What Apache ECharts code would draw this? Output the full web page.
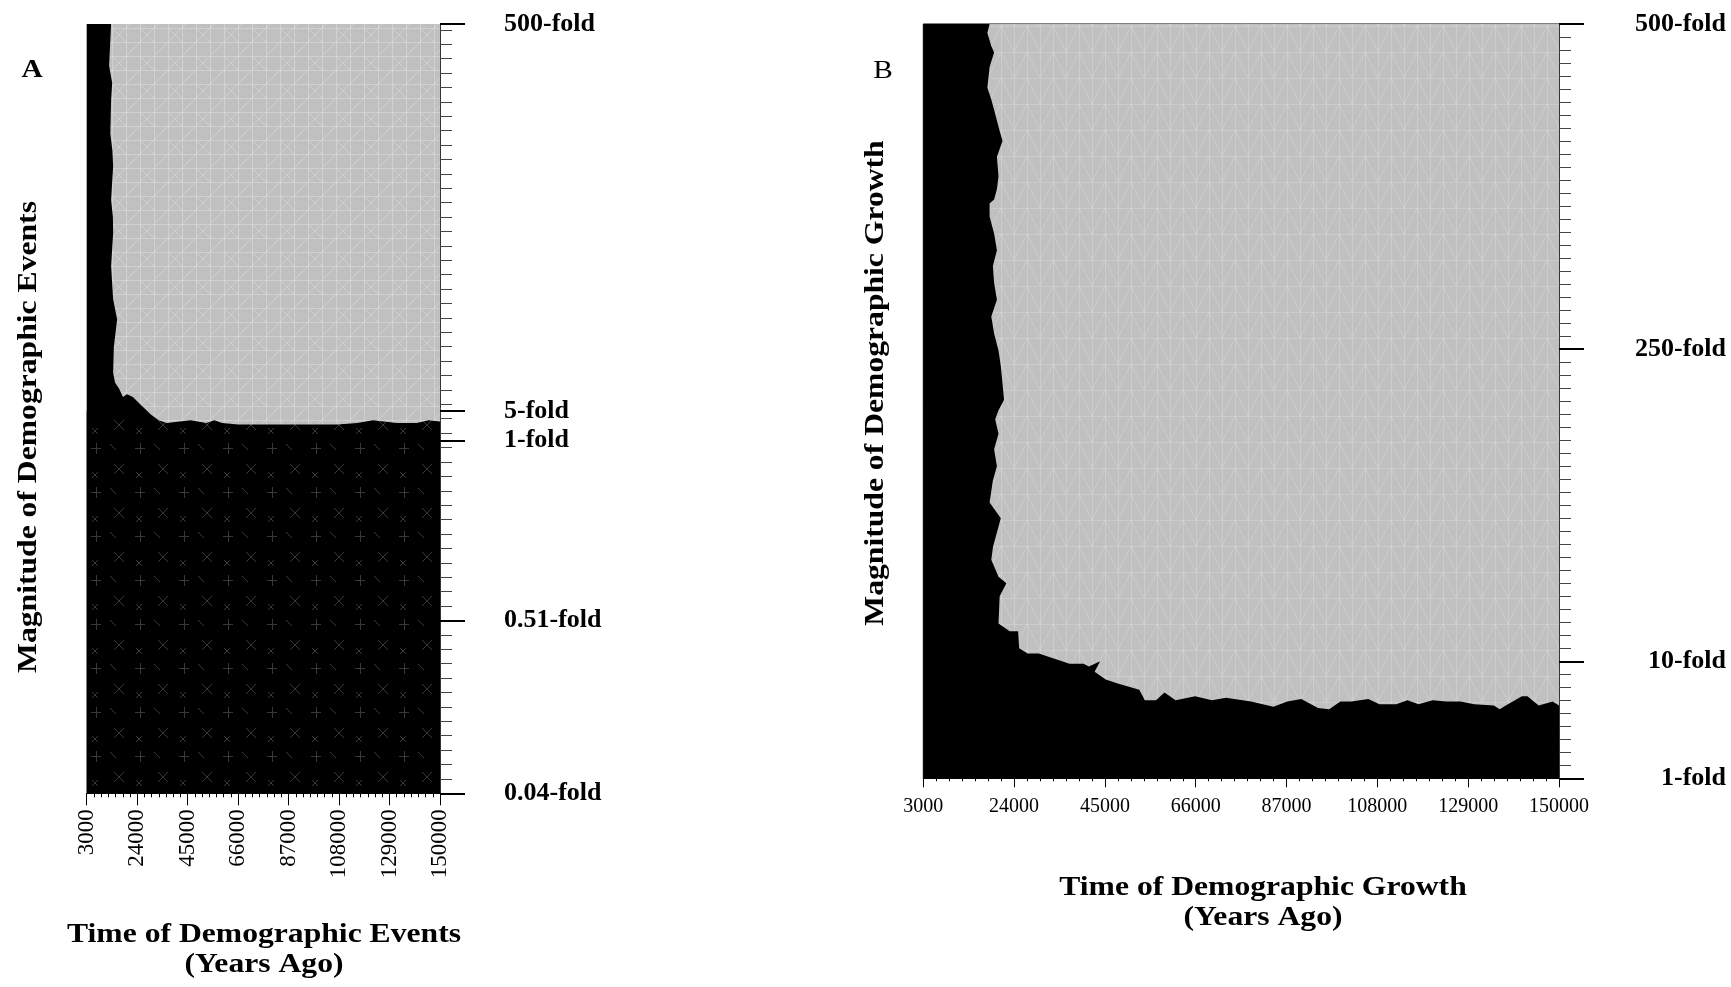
<!DOCTYPE html>
<html lang="en">
<head>
<meta charset="UTF-8">
<title>Time and magnitude of demographic events</title>
<script src="https://cdn.jsdelivr.net/npm/echarts@6/dist/echarts.min.js"></script>
<style>
    html, body { margin: 0; padding: 0; background: #fff; }
    #chart { width: 1731px; height: 987px; }
</style>
</head>
<body>
<div id="chart"></div>
<script>
// time axis (years ago), shared by both panels
var yearMin = 3000, yearMax = 150000, yearStep = 21000;

// panel A: magnitude axis counted in grid steps, fold marks on it
var stepTopA = 53.4;
var foldLabelsA = ['0.04-fold', '0.51-fold', '1-fold', '5-fold', '500-fold'];
var foldPosA = [0, 12, 24.5, 26.55, 53.4];

// panel A: outline of the grey (significant) region, top-left corner going round
var edgeYearsA = [13150, 12320, 13600, 13150, 12820, 13700, 14000, 13150, 13900, 14000,
    13150, 14000, 15650, 14300, 13990, 14820, 16440, 18100, 19770, 22220,
    24720, 29670, 32960, 36290, 46190, 52770, 56090, 59390, 66000, 82520,
    99040, 107280, 115520, 122130, 132030, 140300, 145260, 150000, 150000];
var edgeStepsA = [53.4, 50.5, 49.3, 48.1, 45.8, 44.6, 43.5, 41.2, 40.0, 38.9,
    36.6, 34.3, 32.9, 31.0, 29.2, 28.5, 28.1, 27.5, 27.7, 27.5,
    27.1, 26.3, 25.9, 25.7, 25.9, 25.7, 25.9, 25.7, 25.6, 25.6,
    25.6, 25.6, 25.7, 25.9, 25.7, 25.7, 25.9, 25.8, 53.4];

// panel B
var stepTopB = 58;
var foldLabelsB = ['1-fold', '10-fold', '250-fold', '500-fold'];
var foldPosB = [0, 9, 33, 58];

var edgeYearsB = [18330, 17820, 18720, 19370, 18330, 17820, 18720, 19370, 20390, 21310,
    20020, 20390, 20020, 19370, 18330, 18330, 19370, 20020, 19090, 19370,
    20020, 18720, 19370, 20390, 20920, 21680, 20390, 19620, 20390, 19370,
    20020, 19090, 18330, 20920, 19120, 18720, 20390, 22210, 20660, 20390,
    22980, 24920, 25170, 27110, 29700, 34210, 36800, 40040, 41310, 43900,
    42610, 45190, 47780, 52940, 54230, 56820, 58770, 61340, 65870, 69750,
    72970, 78790, 83950, 87180, 90400, 94280, 96870, 99440, 102030, 105910,
    108480, 112360, 114950, 117540, 120750, 123990, 127220, 130440, 134950, 136270,
    138190, 141420, 142710, 145300, 148520, 150000, 150000];
var edgeStepsB = [58.0, 57.3, 56.3, 55.8, 54.7, 53.1, 52.2, 51.4, 50.1, 49.0,
    47.8, 46.3, 45.3, 44.5, 44.2, 43.2, 41.9, 40.6, 39.4, 38.1,
    36.8, 35.5, 34.2, 32.9, 31.7, 29.1, 28.3, 27.6, 26.5, 25.3,
    24.0, 22.9, 21.2, 20.0, 17.8, 16.8, 15.5, 15.0, 14.0, 11.9,
    11.3, 11.3, 10.0, 9.6, 9.6, 9.1, 8.8, 8.8, 8.6, 9.0,
    8.2, 7.6, 7.3, 6.8, 6.0, 6.0, 6.6, 6.0, 6.3, 6.0,
    6.2, 5.9, 5.5, 5.9, 6.1, 5.4, 5.3, 5.9, 5.9, 6.1,
    5.7, 5.7, 6.0, 5.7, 6.0, 5.9, 5.9, 5.7, 5.6, 5.3,
    5.7, 6.3, 6.3, 5.6, 5.9, 5.6, 58.0];

var serif = '"Liberation Serif", "Times New Roman", serif';

// small repeating textures for the contour fills
function tile(size, bg, ink, draw) {
    var c = document.createElement('canvas');
    c.width = c.height = size;
    var g = c.getContext('2d');
    g.fillStyle = bg;
    g.fillRect(0, 0, size, size);
    g.strokeStyle = ink;
    g.lineWidth = 1;
    g.beginPath();
    draw(g);
    g.stroke();
    return { image: c, repeat: 'repeat' };
}
function seg(g, x1, y1, x2, y2) { g.moveTo(x1, y1); g.lineTo(x2, y2); }

var greyA = tile(28, '#c0c0c0', 'rgba(222,222,222,0.55)', function (g) {
    seg(g, 0.5, 0, 0.5, 28); seg(g, 14.5, 0, 14.5, 28);
    seg(g, 0, 0.5, 28, 0.5); seg(g, 0, 14.5, 28, 14.5);
    seg(g, 0, 0, 14, 14); seg(g, 14, 0, 0, 14); seg(g, 14, 28, 28, 14);
});
var darkA = tile(44, '#000', '#383838', function (g) {
    seg(g, 3, 8.5, 13, 8.5); seg(g, 8.5, 3, 8.5, 14);
    seg(g, 26, 24, 36, 34); seg(g, 36, 24, 26, 34);
    seg(g, 22, 4, 28, 10); seg(g, 4, 38, 10, 32); seg(g, 10, 38, 4, 32);
});
var greyB = tile(26, '#c0c0c0', 'rgba(222,222,222,0.4)', function (g) {
    seg(g, 0.5, 0, 0.5, 26); seg(g, 13.5, 0, 13.5, 26);
    seg(g, 0, 0.5, 26, 0.5);
    seg(g, 0, 26, 13, 0); seg(g, 13, 0, 26, 26);
});

function region(gi, years, steps, fill, z) {
    return {
        type: 'custom',
        xAxisIndex: gi,
        yAxisIndex: gi * 2,
        clip: true,
        silent: true,
        z: z,
        data: years.map(function (t, i) { return [t, steps[i]]; }),
        renderItem: function (params, api) {
            if (params.dataIndex !== 0) return;
            var pts = years.map(function (t, i) { return api.coord([t, steps[i]]); });
            return { type: 'polygon', shape: { points: pts }, style: { fill: fill } };
        }
    };
}

function timeAxis(gi, opts) {
    return {
        gridIndex: gi, type: 'value', position: 'bottom',
        min: yearMin, max: yearMax, interval: yearStep,
        axisLine: { show: true, onZero: false, lineStyle: { color: '#000', width: 1 } },
        axisTick: { show: true, length: opts.tick, lineStyle: { color: '#000' } },
        minorTick: { show: true, splitNumber: 7, length: opts.minor, lineStyle: { color: '#000' } },
        axisLabel: {
            rotate: opts.rotate, margin: opts.margin, fontFamily: serif, fontSize: opts.size, color: '#000',
            formatter: function (v) { return String(v); }
        },
        splitLine: { show: false }, minorSplitLine: { show: false }
    };
}

function stepAxis(gi, top) {
    return {
        gridIndex: gi, type: 'value', position: 'right', min: 0, max: top, interval: 1,
        axisLine: { show: true, onZero: false, lineStyle: { color: '#333' } },
        axisTick: { show: true, length: 12, lineStyle: { color: '#444' } },
        axisLabel: { show: false }, splitLine: { show: false }
    };
}

function foldAxis(gi, top, pos, labels, margin, align) {
    return {
        gridIndex: gi, type: 'value', position: 'right', min: 0, max: top,
        axisLine: { show: false },
        axisTick: { show: true, length: 25, customValues: pos, lineStyle: { color: '#000', width: 2 } },
        axisLabel: {
            customValues: pos, margin: margin, align: align,
            fontFamily: serif, fontWeight: 'bold', fontSize: 26, color: '#000',
            formatter: function (v) {
                var best = 0;
                pos.forEach(function (p, i) { if (Math.abs(p - v) < Math.abs(pos[best] - v)) best = i; });
                return labels[best];
            }
        },
        splitLine: { show: false }
    };
}

function title(text, x, y, rot, size, weight) {
    return {
        type: 'text', x: x, y: y, rotation: rot, scaleX: 1.13, silent: true,
        style: { text: text, fontFamily: serif, fontSize: size, fontWeight: weight,
                 fill: '#000', align: 'center', verticalAlign: 'middle' }
    };
}

var chart = echarts.init(document.getElementById('chart'));
chart.setOption({
    animation: false,
    backgroundColor: '#fff',
    grid: [
        { left: 86.7, top: 24, width: 353.3, height: 769.3, show: true,
          backgroundColor: '#000', borderWidth: 0, containLabel: false, outerBoundsMode: 'none' },
        { left: 923.3, top: 24, width: 635.7, height: 754.3, show: true,
          backgroundColor: '#000', borderWidth: 1, borderColor: '#000', containLabel: false, outerBoundsMode: 'none' }
    ],
    xAxis: [
        timeAxis(0, { tick: 12, minor: 4, rotate: 90, margin: 16, size: 23 }),
        timeAxis(1, { tick: 9, minor: 3, rotate: 0, margin: 18, size: 20 })
    ],
    yAxis: [
        stepAxis(0, stepTopA),
        foldAxis(0, stepTopA, foldPosA, foldLabelsA, 64, 'left'),
        stepAxis(1, stepTopB),
        foldAxis(1, stepTopB, foldPosB, foldLabelsB, 167, 'right')
    ],
    series: [
        region(0, [yearMin, yearMax, yearMax, yearMin], [0, 0, 26.55, 26.55], darkA, 1),
        region(0, edgeYearsA, edgeStepsA, greyA, 2),
        region(1, edgeYearsB, edgeStepsB, greyB, 2)
    ],
    graphic: [
        title('A', 32, 70, 0, 26, 'bold'),
        title('B', 883, 71, 0, 26, 'normal'),
        title('Magnitude of Demographic Events', 29, 437, Math.PI / 2, 28, 'bold'),
        title('Magnitude of Demographic Growth', 876, 383, Math.PI / 2, 28, 'bold'),
        title('Time of Demographic Events', 264, 935, 0, 28, 'bold'),
        title('(Years Ago)', 264, 965, 0, 28, 'bold'),
        title('Time of Demographic Growth', 1263, 888, 0, 28, 'bold'),
        title('(Years Ago)', 1263, 918, 0, 28, 'bold')
    ]
});
</script>
</body>
</html>
